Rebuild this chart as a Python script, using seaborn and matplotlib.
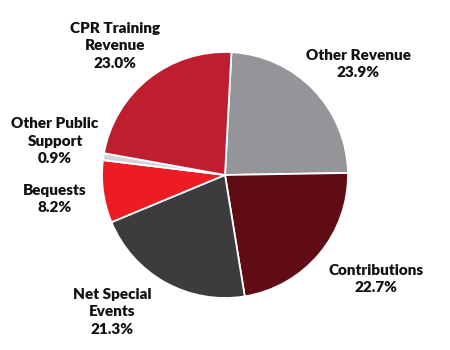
import matplotlib
matplotlib.use("Agg")
import matplotlib.pyplot as plt
import seaborn as sns

sns.set_theme(style="white")
plt.rcParams["font.family"] = ["Lato", "DejaVu Sans"]

categories = ["Other Revenue", "Contributions", "Net Special\nEvents", "Bequests",
              "Other Public\nSupport", "CPR Training\nRevenue"]
shares = [23.9, 22.7, 21.3, 8.2, 0.9, 23.0]
colors = ["#939598", "#5f0c15", "#3c3c3e", "#ed1c24", "#d1d3d4", "#be1e2d"]

# label anchor positions (pixel coords, y measured from top)
label_x = [358, 376, 112, 55, 55, 115]
label_y = [64, 279, 312, 199, 141, 46]

W, H = 450, 350
fig = plt.figure(figsize=(W / 100, H / 100), dpi=100)
ax = fig.add_axes([0, 0, 1, 1])

ax.pie(shares, colors=colors, startangle=87, counterclock=False,
       center=(225, H - 175), radius=123, frame=True,
       wedgeprops=dict(edgecolor="white", linewidth=1.3))
ax.set_xlim(0, W)
ax.set_ylim(0, H)
ax.set_aspect("equal")
ax.axis("off")

for name, v, x, y in zip(categories, shares, label_x, label_y):
    ax.text(x, H - y, f"{name}\n{v:.1f}%", ha="center", va="center",
            fontsize=11, fontweight="heavy", color="#111111", linespacing=1.42)

fig.savefig("out.png", dpi=100, facecolor="white")
